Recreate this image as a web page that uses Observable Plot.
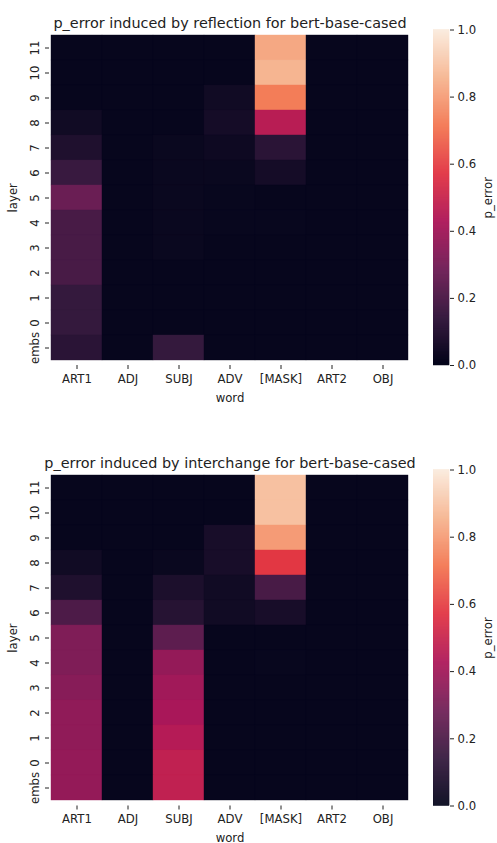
<!DOCTYPE html>
<html>
<head>
<meta charset="utf-8">
<script src="https://cdn.jsdelivr.net/npm/d3@7"></script>
<script src="https://cdn.jsdelivr.net/npm/@observablehq/plot@0.6"></script>
<style>
  html, body { margin: 0; padding: 0; background: #fff; overflow: hidden; }
  #root { position: relative; width: 497px; height: 843px; }
  #root > svg { position: absolute; }
</style>
</head>
<body>
<div id="root"></div>
<script>
// ---- data ----
const words = ["ART1", "ADJ", "SUBJ", "ADV", "[MASK]", "ART2", "OBJ"];
const layers = ["11", "10", "9", "8", "7", "6", "5", "4", "3", "2", "1", "0", "embs"];

// rows top-to-bottom (layer 11 ... embs), columns in `words` order
const reflection = [
  [0.01, 0.01, 0.01, 0.01, 0.83, 0.01, 0.01],
  [0.01, 0.01, 0.01, 0.01, 0.86, 0.01, 0.01],
  [0.01, 0.01, 0.01, 0.04, 0.73, 0.01, 0.01],
  [0.04, 0.01, 0.01, 0.05, 0.46, 0.01, 0.01],
  [0.08, 0.01, 0.02, 0.03, 0.11, 0.01, 0.01],
  [0.15, 0.01, 0.02, 0.02, 0.05, 0.01, 0.01],
  [0.27, 0.01, 0.02, 0.015, 0.01, 0.01, 0.01],
  [0.19, 0.01, 0.02, 0.015, 0.015, 0.01, 0.01],
  [0.19, 0.01, 0.02, 0.01, 0.01, 0.01, 0.01],
  [0.19, 0.01, 0.01, 0.01, 0.01, 0.01, 0.01],
  [0.14, 0.01, 0.01, 0.01, 0.01, 0.01, 0.01],
  [0.14, 0.01, 0.01, 0.01, 0.01, 0.01, 0.01],
  [0.11, 0.01, 0.14, 0.01, 0.01, 0.01, 0.01]
];

const interchange = [
  [0.01, 0.01, 0.01, 0.01, 0.89, 0.01, 0.01],
  [0.01, 0.01, 0.01, 0.01, 0.89, 0.01, 0.01],
  [0.01, 0.01, 0.01, 0.06, 0.80, 0.01, 0.01],
  [0.04, 0.01, 0.02, 0.06, 0.58, 0.01, 0.01],
  [0.08, 0.01, 0.07, 0.04, 0.19, 0.01, 0.01],
  [0.20, 0.01, 0.10, 0.04, 0.06, 0.01, 0.01],
  [0.32, 0.01, 0.24, 0.01, 0.01, 0.01, 0.01],
  [0.32, 0.01, 0.37, 0.01, 0.015, 0.01, 0.01],
  [0.34, 0.01, 0.40, 0.01, 0.01, 0.01, 0.01],
  [0.36, 0.01, 0.42, 0.01, 0.01, 0.01, 0.01],
  [0.36, 0.01, 0.45, 0.01, 0.01, 0.01, 0.01],
  [0.37, 0.01, 0.48, 0.01, 0.01, 0.01, 0.01],
  [0.37, 0.01, 0.48, 0.01, 0.01, 0.01, 0.01]
];

const titles = [
  "p_error induced by reflection for bert-base-cased",
  "p_error induced by interchange for bert-base-cased"
];
const colorbarTicks = [0, 0.2, 0.4, 0.6, 0.8, 1.0];

// seaborn "rocket" colormap stops
const rocketStops = [0, 1/7, 2/7, 3/7, 4/7, 5/7, 6/7, 1];
const rocketColors = ["#03051a", "#35193e", "#701f57", "#ad1759", "#e13342", "#f37651", "#f6b48f", "#faebdd"];

// ---- drawing ----
const font = "DejaVu Sans, sans-serif";
const colorScale = {type: "linear", domain: rocketStops, range: rocketColors, interpolate: "rgb", clamp: true};

function toTable(matrix) {
  const rows = [];
  matrix.forEach((r, i) => r.forEach((v, j) => rows.push({layer: layers[i], word: words[j], value: v})));
  return rows;
}

function heatmap(matrix, title, height, marginBottom) {
  return Plot.plot({
    width: 497, height,
    marginLeft: 49, marginRight: 87, marginTop: 29.5, marginBottom,
    style: {fontFamily: font, fontSize: "11.7px", color: "#222", background: "transparent"},
    x: {domain: words, padding: 0, label: "word", labelAnchor: "center", labelArrow: "none", tickSize: 4, tickPadding: 5, labelOffset: 36},
    y: {domain: layers, padding: 0, label: "layer", labelAnchor: "center", labelArrow: "none", tickSize: 4, tickPadding: 7, tickRotate: -90, labelOffset: 41},
    color: colorScale,
    marks: [
      Plot.cell(toTable(matrix), {x: "word", y: "layer", fill: "value", stroke: "value", strokeWidth: 0.4, inset: 0}),
      Plot.text([title], {frameAnchor: "top", dy: -12, fontSize: 14.4, fill: "#222"})
    ]
  });
}

function colorbar(height, marginBottom) {
  const n = 336;
  const slices = d3.range(n).map(i => ({y1: i / n, y2: (i + 1) / n, v: (i + 0.5) / n}));
  return Plot.plot({
    width: 64, height,
    marginLeft: 0, marginRight: 48, marginTop: 29.5, marginBottom,
    style: {fontFamily: font, fontSize: "11.7px", color: "#222", background: "transparent"},
    x: {domain: [0, 1], axis: null},
    y: {domain: [0, 1], axis: "right", ticks: colorbarTicks, tickFormat: d3.format(".1f"), tickSize: 4, tickPadding: 4,
        label: "p_error", labelAnchor: "center", labelArrow: "none", labelOffset: 42},
    color: colorScale,
    marks: [
      Plot.rect(slices, {x1: 0, x2: 1, y1: "y1", y2: "y2", fill: "v", stroke: "v", strokeWidth: 0.5})
    ]
  });
}

const root = document.getElementById("root");
const place = (el, left, top) => { el.style.left = left + "px"; el.style.top = top + "px"; root.appendChild(el); };

place(heatmap(reflection, titles[0], 421, 56), 0, 0);
place(colorbar(421, 56), 433, 0);
place(heatmap(interchange, titles[1], 403.5, 38), 0, 439.5);
place(colorbar(403.5, 38), 433, 439.5);
</script>
</body>
</html>
